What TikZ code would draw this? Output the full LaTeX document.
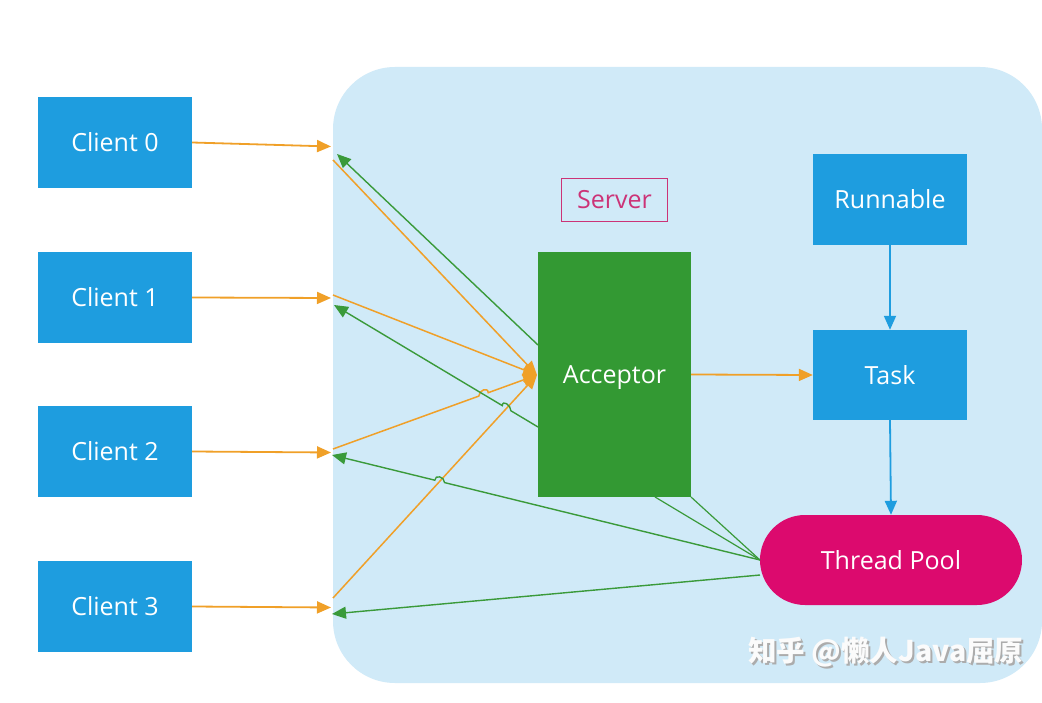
\documentclass[tikz,border=0pt]{standalone}
\usepackage{fontspec}
\setmainfont{Open Sans}
\newfontfamily\cjk{Noto Sans CJK SC}
\usetikzlibrary{arrows.meta,calc}
\definecolor{cblue}{HTML}{1E9DDF}
\definecolor{bgblue}{HTML}{D0EAF8}
\definecolor{accgreen}{HTML}{339933}
\definecolor{lgreen}{HTML}{3A9A3A}
\definecolor{orangel}{HTML}{F0A028}
\definecolor{poolpink}{HTML}{DC0A6E}
\definecolor{srvpink}{HTML}{CC3377}
\tikzset{
  lbl/.style={font=\fontsize{25}{29}\selectfont},
  box/.style={fill=cblue, text=white, minimum width=154pt, minimum height=91pt, inner sep=0pt, lbl},
  accbox/.style={fill=accgreen, text=white, minimum width=153pt, minimum height=245pt, inner sep=0pt, text depth=0pt, lbl},
  poolbox/.style={fill=poolpink, text=white, rounded corners=45pt, minimum width=262pt, minimum height=90pt, inner sep=0pt, lbl},
  srvbox/.style={draw=srvpink, line width=1.5pt, text=srvpink, minimum width=106pt, minimum height=43pt, inner sep=0pt, lbl},
  oarr/.style={draw=orangel, line width=1.8pt, -{Triangle[length=14pt,width=12pt]}},
  oline/.style={draw=orangel, line width=1.5pt, -{Triangle[length=14pt,width=12pt]}},
  garr/.style={draw=lgreen, line width=1.4pt, -{Triangle[length=14pt,width=12pt]}},
  gline/.style={draw=lgreen, line width=1.2pt},
  barr/.style={draw=cblue, line width=1.8pt, -{Triangle[length=14pt,width=12pt]}},
  wmark/.style={font=\cjk\bfseries\fontsize{28.5}{33}\selectfont, anchor=west, inner sep=0pt},
}
\begin{document}
\begin{tikzpicture}[x=1pt,y=-1pt]
\useasboundingbox (0,0) rectangle (1042,703);
\fill[white] (0,0) rectangle (1042,703);
\fill[bgblue, rounded corners=62pt] (333,67) rectangle (1042,683);

\node[box] (c0) at (115,142.5) {Client 0};
\node[box] (c1) at (115,297.5) {Client 1};
\node[box] (c2) at (115,451.5) {Client 2};
\node[box] (c3) at (115,606.5) {Client 3};

\node[srvbox] (srv) at (614.5,200) {Server};
\node[accbox] (acc) at (614.5,374.5) {Acceptor};
\node[box] (run) at (890,199.5) {Runnable};
\node[box, minimum height=90pt] (task) at (890,375) {Task};
\node[poolbox] (pool) at (891,560) {Thread Pool};

% free ends on the server side
\coordinate (i0) at (331,146.5);
\coordinate (i1) at (331,298);
\coordinate (i2) at (331,452.5);
\coordinate (i3) at (331,607.5);
\coordinate (s0) at (333,160);
\coordinate (s1) at (333,295);
\coordinate (s2) at (333,449);
\coordinate (s3) at (333,598);
\coordinate (g0) at (337,154);
\coordinate (g1) at (334,305);
\coordinate (g2) at (332,455);
\coordinate (g3) at (332,614);
\coordinate (hub) at (537,375);
\coordinate (a0) at (538,345);
\coordinate (a1) at (538,427);
\coordinate (ab1) at (655,497);
\coordinate (ab2) at (691,497);
\coordinate (p0) at (760,560);
\coordinate (p1) at (760,575);
% line crossings (hops)
\coordinate (x1) at (483.5,394.4);
\coordinate (x2) at (506.6,408.2);
\coordinate (x3) at (439.7,481.4);

% client -> server
\draw[oarr] (c0.east) -- (i0);
\draw[oarr] (c1.east) -- (i1);
\draw[oarr] (c2.east) -- (i2);
\draw[oarr] (c3.east) -- (i3);

% server side -> acceptor
\draw[oline] (s0) -- (hub);
\draw[oline] (s1) -- (hub);
\draw[oline] (s2) -- ($(x1)!5pt!(s2)$) .. controls +(0,-6) and +(0,-6) .. ($(x1)!5pt!(hub)$) -- (hub);
\draw[oline] (s3) -- (hub);

% acceptor -> clients
\draw[garr] (a0) -- (g0);
\draw[garr] (a1) -- ($(x2)!5pt!(a1)$) .. controls +(0,-6) and +(0,-6) .. ($(x2)!5pt!(g1)$) -- (g1);

% thread pool -> clients
\draw[garr] (p0) -- ($(x3)!5pt!(p0)$) .. controls +(0,-6) and +(0,-6) .. ($(x3)!5pt!(g2)$) -- (g2);
\draw[garr] (p1) -- (g3);
\draw[gline] (p0) -- (ab1);
\draw[gline] (p0) -- (ab2);

% acceptor -> task, runnable -> task -> pool
\draw[oarr] (acc.east) -- (task.west);
\draw[barr] (run.south) -- (task.north);
\draw[barr] (task.south) -- (pool.north);

% watermark
\node[wmark, text=gray!65] at (750,654) {知乎 @懒人Java屈原};
\node[wmark, text=white!97!gray] (wm) at (748,652) {知乎 @懒人Java屈原};
\end{tikzpicture}
\end{document}
